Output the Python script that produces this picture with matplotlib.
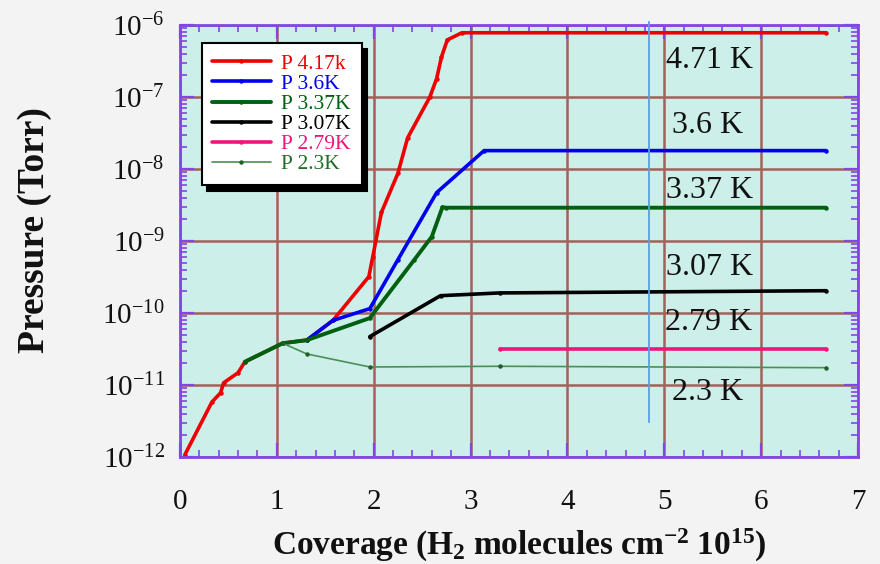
import math
import matplotlib
matplotlib.use('Agg')
import matplotlib.pyplot as plt
from matplotlib.ticker import FixedLocator, FuncFormatter, MultipleLocator, LogLocator, NullFormatter

plt.rcParams['font.family'] = ['Liberation Serif', 'DejaVu Serif']
plt.rcParams['mathtext.fontset'] = 'custom'
plt.rcParams['mathtext.rm'] = 'Liberation Serif'
plt.rcParams['mathtext.bf'] = 'Liberation Serif:bold'
plt.rcParams['mathtext.it'] = 'Liberation Serif:italic'

# ---------------- data ----------------
x_417 = [0.05, 0.33, 0.42, 0.45, 0.60, 0.67, 1.06, 1.31, 1.58, 1.95, 1.99, 2.08,
         2.25, 2.35, 2.58, 2.65, 2.70, 2.76, 2.91, 6.67]
p_417 = [1.07e-12, 5.8e-12, 7.8e-12, 1.07e-11, 1.48e-11, 2.1e-11, 3.8e-11, 4.2e-11,
         7.9e-11, 3.2e-10, 6.0e-10, 2.5e-9, 8.7e-9, 2.7e-8, 1.0e-7, 1.8e-7, 3.6e-7,
         6.2e-7, 7.8e-7, 7.8e-7]

x_36 = [1.31, 1.58, 1.96, 2.25, 2.65, 3.14, 6.67]
p_36 = [4.2e-11, 7.9e-11, 1.15e-10, 5.5e-10, 4.7e-9, 1.8e-8, 1.8e-8]

x_337 = [0.67, 1.06, 1.31, 1.96, 2.42, 2.60, 2.71, 2.75, 6.67]
p_337 = [2.1e-11, 3.8e-11, 4.2e-11, 8.5e-11, 5.5e-10, 1.15e-9, 2.95e-9, 2.9e-9, 2.9e-9]

x_307 = [1.96, 2.69, 3.30, 6.67]
p_307 = [4.7e-11, 1.74e-10, 1.9e-10, 2.04e-10]

x_279 = [3.30, 6.67]
p_279 = [3.2e-11, 3.2e-11]

x_23 = [1.06, 1.31, 1.96, 3.30, 6.67]
p_23 = [3.8e-11, 2.7e-11, 1.78e-11, 1.82e-11, 1.74e-11]

series_labels = ['P 4.17k', 'P 3.6K', 'P 3.37K', 'P 3.07K', 'P 2.79K', 'P 2.3K']
series_colors = ['#ee0000', '#0000ee', '#006010', '#000000', '#f0157a', '#4a8f55']

annot_text = ['4.71 K', '3.6 K', '3.37 K', '3.07 K', '2.79 K', '2.3 K']
annot_x = [5.47, 5.45, 5.47, 5.47, 5.46, 5.45]
annot_y = [2.5e-7, 3.2e-8, 4.0e-9, 3.4e-10, 5.8e-11, 6.2e-12]

marker_x = 4.84
marker_y = [3.1e-12, 1.1e-6]

x_ticks = [0, 1, 2, 3, 4, 5, 6, 7]
y_exponents = [-12, -11, -10, -9, -8, -7, -6]

# ---------------- figure ----------------
fig = plt.figure(figsize=(8.8, 5.64), dpi=100, facecolor='#f3f3f3')
ax = fig.add_axes([0.2045, 0.1897, 0.7705, 0.766])
ax.set_facecolor('#cdefea')
ax.set_yscale('log')
ax.set_xlim(0, 7)
ax.set_ylim(10.0 ** y_exponents[0], 10.0 ** y_exponents[-1])

series = [(x_417, p_417, 2.6, 2), (x_36, p_36, 2.6, 3), (x_337, p_337, 2.8, 4),
          (x_307, p_307, 2.6, 5), (x_279, p_279, 2.6, 6), (x_23, p_23, 1.2, 7)]
handles = []
for (xs, ys, lw, z), lab, col in zip(series, series_labels, series_colors):
    mcol = '#1f5f2a' if lab == 'P 2.3K' else col
    h, = ax.plot(xs, ys, color=col, lw=lw, zorder=z, marker='o', markersize=2.2,
                 markerfacecolor=mcol, markeredgecolor=mcol,
                 solid_capstyle='round', solid_joinstyle='round', label=lab)
    handles.append(h)

ax.plot([marker_x, marker_x], marker_y, color='#5b9bf0', lw=1.3, zorder=8, clip_on=False)

for t, xx, yy in zip(annot_text, annot_x, annot_y):
    ax.text(xx, yy, t, fontsize=23, ha='center', va='baseline', color='#111111', zorder=9)

# grid / ticks
spine_col = '#8246e6'
ax.set_axisbelow(True)
ax.grid(which='major', color='#a65f5a', lw=1.8)
for s in ax.spines.values():
    s.set_color(spine_col)
    s.set_linewidth(2)

ax.xaxis.set_major_locator(FixedLocator(x_ticks))
ax.xaxis.set_major_formatter(FuncFormatter(lambda v, p: '%d' % round(v)))
ax.xaxis.set_minor_locator(MultipleLocator(0.2))
ax.yaxis.set_major_locator(FixedLocator([10.0 ** e for e in y_exponents]))
ax.yaxis.set_major_formatter(FuncFormatter(lambda v, p: r'$10^{%d}$' % round(math.log10(v))))
ax.yaxis.set_minor_locator(LogLocator(base=10, subs=[2, 3, 4, 5, 6, 7, 8, 9], numticks=20))
ax.yaxis.set_minor_formatter(NullFormatter())

ax.tick_params(which='both', direction='in', top=True, right=True, color=spine_col,
               labelsize=21, labelcolor='#111111')
ax.tick_params(which='major', length=10, width=1.6)
ax.tick_params(which='minor', length=5, width=1.2)
ax.tick_params(axis='x', which='major', pad=23)
ax.tick_params(axis='y', which='major', pad=11)

ax.set_ylabel('Pressure (Torr)', fontsize=27, fontweight='bold', color='#111111')
ax.yaxis.set_label_coords(-0.188, 0.525)
ax.set_xlabel(r'$\mathbf{Coverage\ (H_{2}\ molecules\ cm^{-2}\ 10^{15})}$', fontsize=24,
              color='#111111')
ax.xaxis.set_label_coords(0.5, -0.163)

leg = ax.legend(handles=handles, loc='upper left', bbox_to_anchor=(0.032, 0.958),
                borderaxespad=0, fontsize=15.5, handlelength=2.7, labelspacing=0.0,
                handletextpad=0.5, borderpad=0.5, numpoints=1, fancybox=False,
                framealpha=1, edgecolor='black',
                shadow={'ox': 4, 'oy': -4, 'color': 'black', 'alpha': 1})
leg.get_frame().set_linewidth(1.5)
leg.set_zorder(10)
for txt, col in zip(leg.get_texts(), series_colors):
    txt.set_color('#1f6f2a' if col == '#4a8f55' else col)

fig.savefig('out.png', dpi=100, facecolor=fig.get_facecolor())
